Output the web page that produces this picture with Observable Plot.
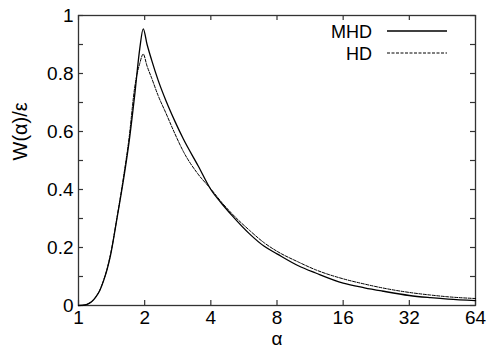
<!DOCTYPE html>
<html>
<head>
<meta charset="utf-8">
<script src="https://cdn.jsdelivr.net/npm/d3@7"></script>
<script src="https://cdn.jsdelivr.net/npm/@observablehq/plot@0.6"></script>
<style>
  html, body { margin: 0; padding: 0; background: #fff; }
  #wrap { position: relative; width: 490px; height: 354px; }
  #legend { position: absolute; left: 0; top: 0; pointer-events: none; }
</style>
</head>
<body>
<div id="wrap"></div>
<script>
const alpha = [1, 1.05, 1.1, 1.15, 1.2, 1.25, 1.3, 1.35, 1.4, 1.5, 1.6, 1.7, 1.8, 1.9, 1.97, 2.05, 2.15, 2.3, 2.5, 2.75, 3, 3.5, 4, 4.5, 5, 6, 7, 8, 10, 12, 16, 20, 24, 32, 40, 48, 64];
const mhd = [0, 0.001, 0.005, 0.014, 0.03, 0.052, 0.085, 0.125, 0.175, 0.305, 0.431, 0.566, 0.723, 0.886, 0.954, 0.901, 0.847, 0.778, 0.706, 0.634, 0.574, 0.482, 0.400, 0.350, 0.310, 0.247, 0.204, 0.178, 0.137, 0.112, 0.077, 0.061, 0.050, 0.0345, 0.027, 0.022, 0.017];
const hd  = [0, 0.001, 0.005, 0.014, 0.03, 0.053, 0.087, 0.127, 0.178, 0.308, 0.44, 0.58, 0.75, 0.835, 0.867, 0.826, 0.785, 0.725, 0.663, 0.591, 0.531, 0.453, 0.402, 0.354, 0.316, 0.259, 0.216, 0.187, 0.150, 0.123, 0.092, 0.074, 0.061, 0.045, 0.036, 0.030, 0.024];
const xTicks = [1, 2, 4, 8, 16, 32, 64];
const yTicks = [0, 0.2, 0.4, 0.6, 0.8, 1];
const yMinor = [0, 0.1, 0.2, 0.3, 0.4, 0.5, 0.6, 0.7, 0.8, 0.9, 1];
const seriesNames = ["MHD", "HD"];
const xLabel = "α";
const yLabel = "W(α)/ε";

const mhdRows = alpha.map((a, i) => ({a, w: mhd[i]}));
const hdRows = alpha.map((a, i) => ({a, w: hd[i]}));

const font = "'Liberation Sans', Arial, Helvetica, sans-serif";
const W = 490, H = 354;
const mL = 78, mT = 15, mR = 15, mB = 49;
const plotW = W - mL - mR, plotH = H - mT - mB;
const tickLen = 5;
const axisColor = "#333";

const chart = Plot.plot({
  width: W, height: H,
  marginLeft: mL, marginTop: mT, marginRight: mR, marginBottom: mB,
  style: {fontFamily: font, fontSize: "19px", color: "#000", background: "#fff"},
  x: {type: "log", base: 2, domain: [1, 64]},
  y: {domain: [0, 1]},
  marks: [
    Plot.axisX({anchor: "bottom", ticks: xTicks, tickSize: 0, tickPadding: 5, tickFormat: d => String(d), label: null, fontSize: 19}),
    Plot.axisY({anchor: "left", ticks: yTicks, tickSize: 0, tickPadding: 5, tickFormat: d => String(d), label: null, fontSize: 19}),
    // inward ticks
    Plot.tickX(xTicks, {x: d => d, insetTop: plotH - tickLen, stroke: axisColor, strokeWidth: 1.2}),
    Plot.tickX(xTicks, {x: d => d, insetBottom: plotH - tickLen, stroke: axisColor, strokeWidth: 1.2}),
    Plot.tickY(yMinor, {y: d => d, insetRight: plotW - tickLen, stroke: axisColor, strokeWidth: 1.2}),
    Plot.tickY(yMinor, {y: d => d, insetLeft: plotW - tickLen, stroke: axisColor, strokeWidth: 1.2}),
    Plot.frame({stroke: axisColor, strokeWidth: 1.3}),
    Plot.line(hdRows, {x: "a", y: "w", curve: "monotone-x", stroke: "#000", strokeWidth: 1, strokeDasharray: "3,1.5"}),
    Plot.line(mhdRows, {x: "a", y: "w", curve: "monotone-x", stroke: "#000", strokeWidth: 1.3}),
    Plot.text([xLabel], {text: d => d, frameAnchor: "bottom", dy: 39, fontSize: 19, fill: "#000"}),
    Plot.text([yLabel], {text: d => d, frameAnchor: "left", rotate: -90, dx: -58, fontSize: 20, fill: "#000"})
  ]
});

const wrap = document.getElementById("wrap");
wrap.appendChild(chart);

// legend overlay
const leg = d3.select(wrap).append("svg").attr("id", "legend").attr("width", W).attr("height", H);
const legY = [31, 53];
const dashes = [null, "3,1.5"];
seriesNames.forEach((name, i) => {
  leg.append("text").attr("x", 372).attr("y", legY[i] + 6.5).attr("text-anchor", "end")
    .attr("font-family", font).attr("font-size", 18).attr("fill", "#000").text(name);
  leg.append("line").attr("x1", 387).attr("x2", 447).attr("y1", legY[i]).attr("y2", legY[i])
    .attr("stroke", "#000").attr("stroke-width", i === 0 ? 1.3 : 1)
    .attr("stroke-dasharray", dashes[i]);
});
</script>
</body>
</html>
